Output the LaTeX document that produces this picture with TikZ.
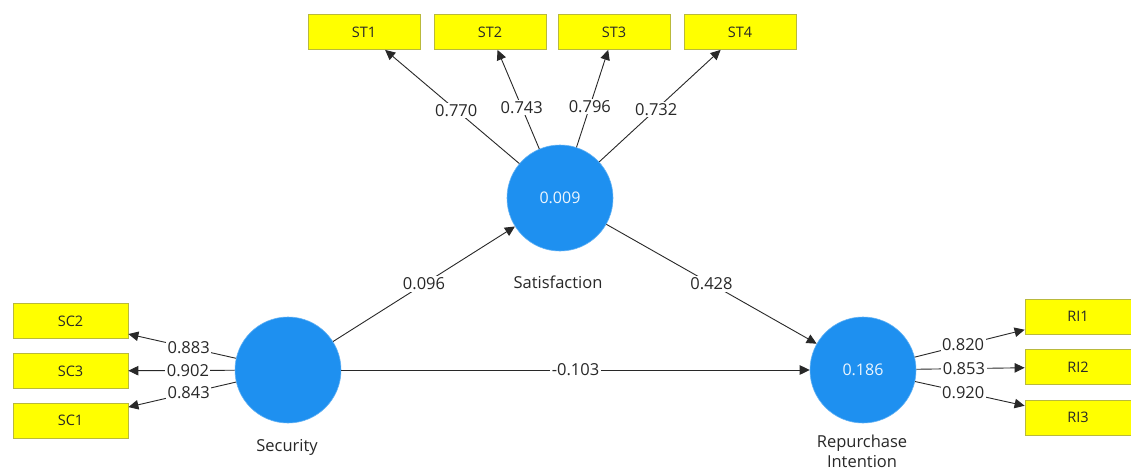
\documentclass[tikz,border=0pt]{standalone}
\usepackage{fontspec}
\setmainfont{Open Sans}
\usetikzlibrary{arrows.meta}
\definecolor{lvblue}{RGB}{30,144,240}
\definecolor{indfill}{RGB}{255,255,0}
\definecolor{inddraw}{RGB}{185,185,60}
\definecolor{txt}{RGB}{40,40,40}
\tikzset{
  latent/.style={circle, fill=lvblue, draw=lvblue!70!white, line width=0.6pt, minimum size=106pt, inner sep=0pt, text=white!92!lvblue, font=\fontsize{16}{18}\selectfont},
  indicator/.style={rectangle, fill=indfill, draw=inddraw, line width=0.8pt, minimum width=112pt, minimum height=35pt, inner sep=0pt, text=txt, font=\fontsize{14.5}{16}\selectfont},
  path/.style={draw=txt, line width=0.9pt, -{Triangle[length=10pt,width=9.5pt]}},
  coef/.style={fill=white, inner sep=1.5pt, text=txt, font=\fontsize{16.5}{18}\selectfont},
  lvname/.style={text=txt, font=\fontsize{16.5}{20}\selectfont, align=center},
}
\begin{document}
\begin{tikzpicture}[x=1pt,y=-1pt]
\useasboundingbox[fill=white] (0,0) rectangle (1131,469);

% latent variables
\node[latent] (sat) at (560,198) {0.009};
\node[latent] (sec) at (288,370) {};
\node[latent] (rep) at (863,370) {0.186};

\node[lvname] (satname) at (558,282) {Satisfaction};
\node[lvname] (secname) at (287,447) {Security};
\node[lvname] (repname) at (862,451) {Repurchase\\Intention};

% indicators of Satisfaction
\node[indicator] (st1) at (364,32) {ST1};
\node[indicator] (st2) at (490,32) {ST2};
\node[indicator] (st3) at (614,32) {ST3};
\node[indicator] (st4) at (740,32) {ST4};

% indicators of Security
\node[indicator, minimum width=115pt] (sc2) at (70.5,321) {SC2};
\node[indicator, minimum width=115pt] (sc3) at (70.5,371) {SC3};
\node[indicator, minimum width=115pt] (sc1) at (70.5,420.5) {SC1};

% indicators of Repurchase Intention
\node[indicator, minimum width=106pt] (ri1) at (1078,316.5) {RI1};
\node[indicator, minimum width=106pt] (ri2) at (1078,367) {RI2};
\node[indicator, minimum width=106pt] (ri3) at (1078,417.5) {RI3};

% outer loadings
\draw[path] (sat) -- node[coef, pos=0.47] {0.770} (st1);
\draw[path] (sat) -- node[coef, pos=0.42] {0.743} (st2);
\draw[path] (sat) -- node[coef, pos=0.42] {0.796} (st3);
\draw[path] (sat) -- node[coef, pos=0.47] {0.732} (st4);

\draw[path] (sec) -- node[coef, pos=0.44] {0.883} (sc2);
\draw[path] (sec) -- node[coef, pos=0.44] {0.902} (sc3);
\draw[path] (sec) -- node[coef, pos=0.44] {0.843} (sc1);

\draw[path] (rep) -- node[coef, pos=0.44] {0.820} (ri1);
\draw[path] (rep) -- node[coef, pos=0.44] {0.853} (ri2);
\draw[path] (rep) -- node[coef, pos=0.44] {0.920} (ri3);

% structural paths
\draw[path] (sec) -- node[coef, pos=0.5] {0.096} (sat);
\draw[path] (sat) -- node[coef, pos=0.5] {0.428} (rep);
\draw[path] (sec) -- node[coef, pos=0.5] {-0.103} (rep);
\end{tikzpicture}
\end{document}
